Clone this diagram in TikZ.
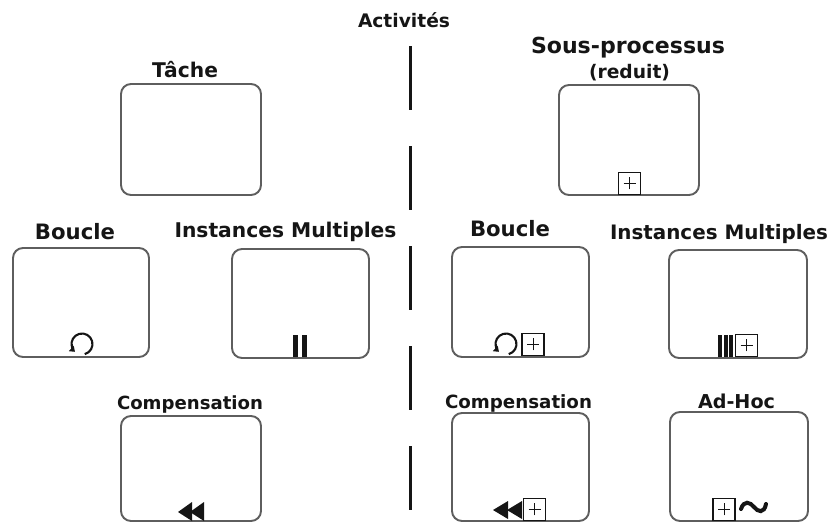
\documentclass[tikz,border=0pt]{standalone}
\usepackage{fontspec}
\setmainfont{DejaVu Sans}
\usetikzlibrary{arrows.meta}
\definecolor{boxgray}{HTML}{5E5E5E}
\definecolor{ink}{HTML}{151515}
\newcommand{\fitlbl}[2]{\resizebox{#1pt}{!}{#2}}
\begin{document}
\begin{tikzpicture}[x=1pt,y=-1pt,
  box/.style={draw=boxgray, line width=1.9pt, rounded corners=10pt, fill=white, inner sep=0pt},
  lbl/.style={anchor=base, inner sep=0pt, text=ink, font=\fontsize{20}{20}\selectfont\bfseries},
  plusbox/.style={draw=ink, line width=1.2pt, minimum size=22pt, inner sep=0pt, anchor=south,
    path picture={\draw[line width=0.9pt, ink] (path picture bounding box.center) ++(-6pt,0pt) -- ++(12pt,0pt);
                  \draw[line width=0.9pt, ink] (path picture bounding box.center) ++(0pt,-6pt) -- ++(0pt,12pt);}},
  barfill/.style={fill=ink, draw=none},
  loopline/.style={draw=ink, line width=2.1pt, -{Triangle[length=5pt,width=7pt]}},
  divider/.style={draw=ink, line width=3pt, dash pattern=on 64pt off 36pt}
]
\useasboundingbox (0,0) rectangle (831,523);

% divider
\coordinate (dtop) at (410,46);
\coordinate (dbot) at (410,510);
\draw[divider] (dtop) -- (dbot);

% title
\node[lbl] (title) at (404,27) {\fitlbl{92}{Activités}};

% boxes
\node[box, minimum width=140pt, minimum height=111pt] (tache) at (191,139.5) {};
\node[box, minimum width=140pt, minimum height=110pt] (sous) at (629,140) {};
\node[box, minimum width=136pt, minimum height=109pt] (boucleL) at (81,302.5) {};
\node[box, minimum width=137pt, minimum height=109pt] (imL) at (300.5,303.5) {};
\node[box, minimum width=137pt, minimum height=110pt] (boucleR) at (520.5,302) {};
\node[box, minimum width=138pt, minimum height=108pt] (imR) at (738,304) {};
\node[box, minimum width=140pt, minimum height=105pt] (compL) at (191,468.5) {};
\node[box, minimum width=137pt, minimum height=108pt] (compR) at (520.5,467) {};
\node[box, minimum width=138pt, minimum height=109pt] (adhoc) at (739,466.5) {};

% labels
\node[lbl] (lTache) at (185,77) {\fitlbl{66}{Tâche}};
\node[lbl] (lSous) at (628,53) {\fitlbl{194}{Sous-processus}};
\node[lbl] (lRed) at (629.5,78) {\fitlbl{81}{(reduit)}};
\node[lbl] (lBL) at (75,239) {\fitlbl{80}{Boucle}};
\node[lbl] (lIML) at (285.5,237) {\fitlbl{222}{Instances Multiples}};
\node[lbl] (lBR) at (510,236) {\fitlbl{80}{Boucle}};
\node[lbl] (lIMR) at (719,239) {\fitlbl{218}{Instances Multiples}};
\node[lbl] (lCL) at (190,409) {\fitlbl{146}{Compensation}};
\node[lbl] (lCR) at (518.5,408) {\fitlbl{147}{Compensation}};
\node[lbl] (lAH) at (736.5,408) {\fitlbl{77}{Ad-Hoc}};

% plus markers
\node[plusbox] (pSous) at (629.5,195) {};
\node[plusbox] (pBR) at (533,356) {};
\node[plusbox] (pIMR) at (746.5,357) {};
\node[plusbox] (pCR) at (534.5,521) {};
\node[plusbox] (pAH) at (724,521) {};

% loop markers
\begin{scope}[shift={(82,344)},y=1pt]
  \draw[loopline] (-75:10.5) arc (-75:228:10.5);
\end{scope}
\begin{scope}[shift={(506,344)},y=1pt]
  \draw[loopline] (-75:10.5) arc (-75:228:10.5);
\end{scope}

% multiple instance markers
\fill[barfill] (293,335) rectangle (298,357);
\fill[barfill] (301.5,335) rectangle (306.5,357);
\fill[barfill] (718,335) rectangle (722,357);
\fill[barfill] (723.5,335) rectangle (727.5,357);
\fill[barfill] (729,335) rectangle (733,357);

% compensation markers
\fill[barfill] (178,512) -- (192,502) -- (192,521) -- cycle;
\fill[barfill] (190,512) -- (204,502) -- (204,521) -- cycle;
\fill[barfill] (493,510) -- (508,501) -- (508,519) -- cycle;
\fill[barfill] (507,510) -- (522,501) -- (522,519) -- cycle;

% ad-hoc marker
\draw[ink, line width=4pt, line cap=round]
  (741,509) .. controls (744,500) and (750,502) .. (754,507)
  .. controls (758,512) and (764,514) .. (766,504);
\end{tikzpicture}
\end{document}
